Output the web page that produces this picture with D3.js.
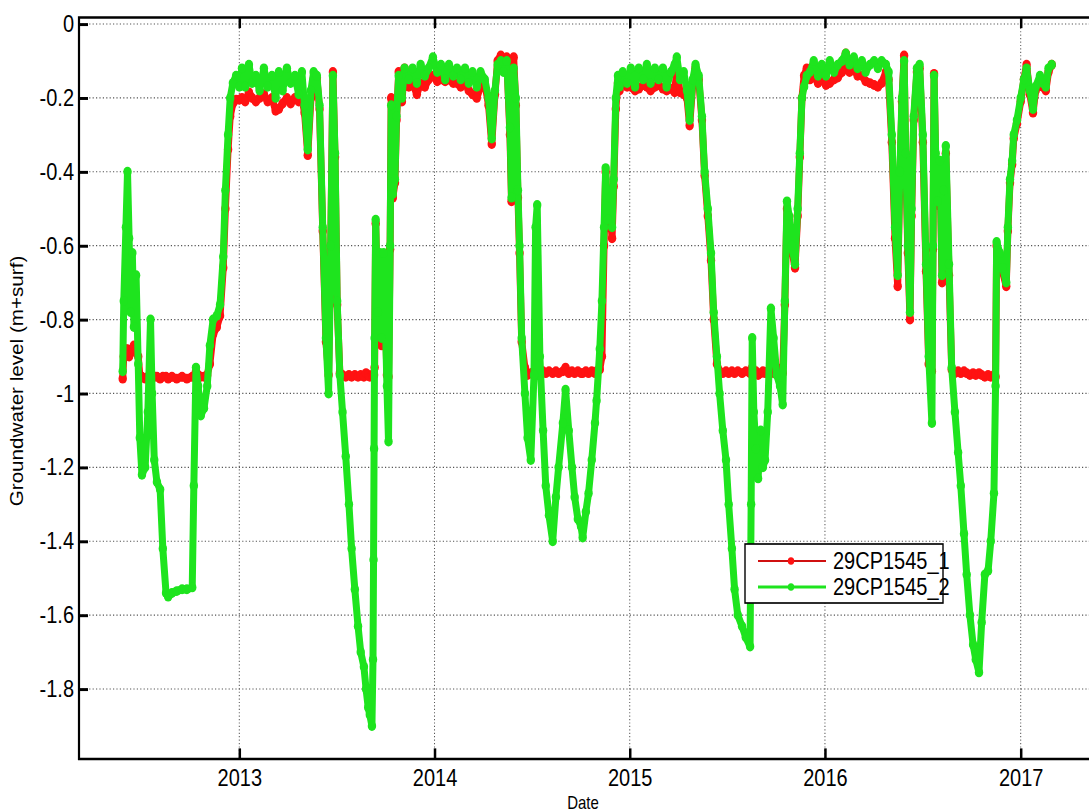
<!DOCTYPE html>
<html>
<head>
<meta charset="utf-8">
<script src="https://cdn.jsdelivr.net/npm/d3@7"></script>
<style>
  body { margin: 0; background: #fff; }
  svg { display: block; }
  text { font-family: "Liberation Sans", Arial, Helvetica, sans-serif; fill: #000; }
</style>
</head>
<body>
<div id="chart"></div>
<script>
// sampling dates shared by both loggers
const dates = [
  "2012-05-28","2012-05-30","2012-06-03","2012-06-06","2012-06-09","2012-06-12","2012-06-15","2012-06-18","2012-06-22","2012-06-26","2012-06-29",
  "2012-07-03","2012-07-09","2012-07-14","2012-07-19","2012-07-22","2012-07-26","2012-07-31",
  "2012-08-06","2012-08-11","2012-08-17","2012-08-21","2012-08-28",
  "2012-09-06","2012-09-16","2012-09-25",
  "2012-10-05","2012-10-08","2012-10-12","2012-10-16","2012-10-21","2012-10-27",
  "2012-11-02","2012-11-07","2012-11-13","2012-11-20","2012-11-26",
  "2012-12-02","2012-12-06","2012-12-11","2012-12-15","2012-12-20","2012-12-26",
  "2013-01-01","2013-01-06","2013-01-12","2013-01-19","2013-01-25","2013-02-01","2013-02-08","2013-02-16","2013-02-23",
  "2013-03-03","2013-03-10","2013-03-16","2013-03-23","2013-03-31",
  "2013-04-07","2013-04-15","2013-04-22","2013-04-28",
  "2013-05-03","2013-05-09","2013-05-15","2013-05-20","2013-05-26","2013-05-31",
  "2013-06-06","2013-06-12","2013-06-17","2013-06-21","2013-06-25","2013-06-29",
  "2013-07-03","2013-07-08","2013-07-13","2013-07-19","2013-07-25","2013-07-30",
  "2013-08-05","2013-08-11","2013-08-16","2013-08-22","2013-08-26","2013-08-30",
  "2013-09-02","2013-09-06","2013-09-08","2013-09-09","2013-09-10","2013-09-11","2013-09-13","2013-09-17","2013-09-21","2013-09-24","2013-09-28",
  "2013-10-04","2013-10-07","2013-10-10","2013-10-12","2013-10-15","2013-10-19","2013-10-22","2013-10-26",
  "2013-11-01","2013-11-06","2013-11-14","2013-11-21","2013-11-29",
  "2013-12-06","2013-12-14","2013-12-21","2013-12-29",
  "2014-01-06","2014-01-13","2014-01-21","2014-01-28",
  "2014-02-05","2014-02-12","2014-02-19","2014-02-27",
  "2014-03-06","2014-03-13","2014-03-21","2014-03-28",
  "2014-04-05","2014-04-12","2014-04-18","2014-04-24","2014-04-29",
  "2014-05-05","2014-05-10","2014-05-16","2014-05-22","2014-05-25","2014-05-29",
  "2014-06-02","2014-06-06","2014-06-09","2014-06-13","2014-06-19","2014-06-24","2014-06-30",
  "2014-07-06","2014-07-09","2014-07-12","2014-07-17","2014-07-23","2014-07-28",
  "2014-08-03","2014-08-10","2014-08-16","2014-08-21","2014-08-29",
  "2014-09-03","2014-09-09","2014-09-15","2014-09-20","2014-09-26",
  "2014-10-02","2014-10-05","2014-10-11","2014-10-16","2014-10-22","2014-10-28","2014-10-31",
  "2014-11-06","2014-11-10","2014-11-14","2014-11-17","2014-11-21","2014-11-25","2014-11-29",
  "2014-12-02","2014-12-06","2014-12-10","2014-12-13","2014-12-19","2014-12-27",
  "2015-01-03","2015-01-11","2015-01-18","2015-01-26",
  "2015-02-02","2015-02-09","2015-02-17","2015-02-24",
  "2015-03-04","2015-03-11","2015-03-19","2015-03-26","2015-03-30",
  "2015-04-05","2015-04-12","2015-04-18","2015-04-23","2015-04-29",
  "2015-05-04","2015-05-10","2015-05-16","2015-05-21","2015-05-27",
  "2015-06-02","2015-06-07","2015-06-13","2015-06-18","2015-06-24","2015-06-30",
  "2015-07-05","2015-07-11","2015-07-16","2015-07-22","2015-07-30",
  "2015-08-06","2015-08-14","2015-08-16","2015-08-18","2015-08-21","2015-08-25","2015-08-29",
  "2015-09-03","2015-09-07","2015-09-11","2015-09-16","2015-09-22","2015-09-27",
  "2015-10-03","2015-10-09","2015-10-14","2015-10-18","2015-10-22","2015-10-26","2015-10-31",
  "2015-11-06","2015-11-11","2015-11-15","2015-11-19","2015-11-23","2015-11-28",
  "2015-12-04","2015-12-11","2015-12-19","2015-12-26",
  "2016-01-03","2016-01-10","2016-01-18","2016-01-25",
  "2016-02-02","2016-02-09","2016-02-16","2016-02-24",
  "2016-03-02","2016-03-10","2016-03-17","2016-03-25",
  "2016-04-02","2016-04-09","2016-04-16","2016-04-24","2016-04-29",
  "2016-05-05","2016-05-11","2016-05-16","2016-05-20","2016-05-24","2016-05-28","2016-05-31",
  "2016-06-04","2016-06-08","2016-06-11","2016-06-15","2016-06-21","2016-06-26",
  "2016-07-02","2016-07-08","2016-07-13","2016-07-19","2016-07-21","2016-07-23","2016-07-26","2016-07-30",
  "2016-08-03","2016-08-07","2016-08-10","2016-08-14","2016-08-20","2016-08-25","2016-08-31",
  "2016-09-06","2016-09-11","2016-09-17","2016-09-22","2016-09-28",
  "2016-10-04","2016-10-09","2016-10-15","2016-10-20","2016-10-26",
  "2016-11-01","2016-11-06","2016-11-12","2016-11-15","2016-11-17","2016-11-23","2016-11-28",
  "2016-12-05","2016-12-08","2016-12-12","2016-12-16","2016-12-19","2016-12-25",
  "2017-01-01","2017-01-07","2017-01-12","2017-01-18","2017-01-24","2017-01-29",
  "2017-02-06","2017-02-11","2017-02-17","2017-02-22","2017-02-28"
];

// 29CP1545_1 (red), m relative to surface
const well1 = [
  -0.96,-0.90,-0.88,-0.88,-0.90,-0.89,-0.88,-0.87,-0.88,-0.90,-0.95,
  -0.955,-0.96,-0.955,-0.95,-0.95,-0.955,-0.955,
  -0.96,-0.955,-0.955,-0.96,-0.955,
  -0.96,-0.955,-0.96,
  -0.955,-0.955,-0.94,-0.95,-0.955,-0.955,
  -0.95,-0.92,-0.84,-0.82,-0.79,
  -0.66,-0.50,-0.34,-0.25,-0.215,-0.205,
  -0.205,-0.20,-0.21,-0.185,-0.20,-0.21,-0.20,-0.19,-0.21,
  -0.20,-0.235,-0.23,-0.215,-0.20,
  -0.215,-0.20,-0.21,-0.20,
  -0.24,-0.355,-0.20,-0.15,-0.145,-0.23,
  -0.56,-0.86,-0.95,-0.60,-0.13,-0.36,
  -0.76,-0.945,-0.95,-0.955,-0.95,-0.955,
  -0.95,-0.955,-0.95,-0.955,-0.945,-0.95,
  -0.955,-0.95,-0.95,-0.95,-0.95,-0.93,-0.54,-0.80,-0.64,-0.87,-0.63,
  -0.95,-0.955,-0.61,-0.20,-0.47,-0.43,-0.26,-0.13,
  -0.21,-0.12,-0.17,-0.16,-0.19,
  -0.16,-0.17,-0.15,-0.14,
  -0.155,-0.15,-0.155,-0.15,
  -0.16,-0.16,-0.17,-0.16,
  -0.18,-0.19,-0.20,-0.17,
  -0.16,-0.22,-0.325,-0.19,-0.10,
  -0.085,-0.12,-0.09,-0.30,-0.48,-0.09,
  -0.22,-0.47,-0.62,-0.86,-0.93,-0.95,-0.945,
  -0.94,-0.945,-0.94,-0.945,-0.94,-0.945,
  -0.94,-0.945,-0.94,-0.945,-0.94,
  -0.93,-0.945,-0.94,-0.945,-0.94,
  -0.945,-0.945,-0.94,-0.945,-0.94,-0.945,-0.94,
  -0.935,-0.90,-0.60,-0.40,-0.55,-0.50,-0.58,
  -0.44,-0.23,-0.16,-0.18,-0.15,-0.17,
  -0.17,-0.18,-0.175,-0.165,
  -0.17,-0.18,-0.17,-0.165,
  -0.175,-0.18,-0.175,-0.185,-0.12,
  -0.185,-0.19,-0.20,-0.275,-0.16,
  -0.12,-0.15,-0.26,-0.41,-0.52,
  -0.64,-0.80,-0.92,-0.94,-0.945,-0.94,
  -0.945,-0.94,-0.945,-0.94,-0.945,
  -0.94,-0.945,-0.94,-0.93,-0.945,-0.94,-0.95,
  -0.945,-0.94,-0.945,-0.94,-0.94,-0.945,
  -0.93,-0.94,-0.945,-0.76,-0.50,-0.53,-0.61,
  -0.66,-0.52,-0.36,-0.20,-0.14,-0.12,
  -0.15,-0.14,-0.16,-0.15,
  -0.165,-0.16,-0.15,-0.145,
  -0.13,-0.08,-0.13,-0.12,
  -0.14,-0.14,-0.155,-0.16,
  -0.165,-0.17,-0.16,-0.13,-0.15,
  -0.32,-0.58,-0.71,-0.42,-0.21,-0.085,-0.37,
  -0.62,-0.80,-0.52,-0.26,-0.13,-0.12,
  -0.32,-0.67,-0.92,-0.94,-0.61,-0.135,-0.37,-0.49,
  -0.38,-0.70,-0.47,-0.35,-0.68,-0.935,-0.945,
  -0.94,-0.945,-0.94,-0.945,-0.95,
  -0.945,-0.95,-0.945,-0.95,-0.955,
  -0.95,-0.955,-0.95,-0.955,-0.60,-0.63,-0.67,
  -0.71,-0.56,-0.43,-0.38,-0.31,-0.27,
  -0.21,-0.15,-0.11,-0.19,-0.24,-0.18,
  -0.15,-0.17,-0.18,-0.13,-0.11
];

// 29CP1545_2 (green)
const well2 = [
  -0.94,-0.75,-0.55,-0.40,-0.58,-0.78,-0.62,-0.82,-0.68,-0.92,-1.12,
  -1.22,-1.20,-1.05,-0.80,-1.00,-1.18,-1.24,
  -1.26,-1.42,-1.54,-1.55,-1.54,
  -1.535,-1.53,-1.53,
  -1.525,-1.25,-0.93,-0.98,-1.06,-1.04,
  -0.98,-0.87,-0.80,-0.79,-0.76,
  -0.63,-0.45,-0.30,-0.20,-0.16,-0.14,
  -0.17,-0.12,-0.17,-0.11,-0.16,-0.14,-0.18,-0.12,-0.17,
  -0.14,-0.20,-0.13,-0.18,-0.12,
  -0.16,-0.14,-0.19,-0.13,
  -0.22,-0.34,-0.18,-0.13,-0.14,-0.22,
  -0.55,-0.85,-1.00,-0.60,-0.14,-0.35,
  -0.75,-0.95,-1.05,-1.17,-1.30,-1.42,
  -1.53,-1.63,-1.70,-1.74,-1.80,-1.85,
  -1.87,-1.90,-1.72,-1.45,-1.15,-0.85,-0.53,-0.78,-0.62,-0.85,-0.62,
  -0.98,-1.13,-0.60,-0.22,-0.46,-0.42,-0.25,-0.14,
  -0.20,-0.12,-0.15,-0.12,-0.16,
  -0.11,-0.14,-0.12,-0.09,
  -0.13,-0.11,-0.15,-0.11,
  -0.14,-0.12,-0.15,-0.12,
  -0.16,-0.13,-0.17,-0.13,
  -0.15,-0.20,-0.31,-0.18,-0.11,
  -0.10,-0.13,-0.10,-0.28,-0.47,-0.12,
  -0.20,-0.45,-0.60,-0.85,-1.00,-1.12,-1.18,
  -0.95,-0.55,-0.49,-0.90,-1.10,-1.25,
  -1.33,-1.40,-1.28,-1.20,-1.08,
  -0.99,-1.10,-1.20,-1.28,-1.34,
  -1.36,-1.39,-1.32,-1.27,-1.18,-1.08,-1.02,
  -0.88,-0.75,-0.55,-0.39,-0.53,-0.47,-0.55,
  -0.42,-0.20,-0.14,-0.17,-0.13,-0.16,
  -0.12,-0.17,-0.12,-0.15,
  -0.11,-0.16,-0.12,-0.15,
  -0.12,-0.17,-0.13,-0.11,-0.09,
  -0.15,-0.13,-0.18,-0.26,-0.15,
  -0.11,-0.14,-0.25,-0.40,-0.50,
  -0.62,-0.78,-0.90,-1.00,-1.10,-1.18,
  -1.30,-1.42,-1.53,-1.60,-1.63,
  -1.66,-1.685,-1.30,-0.85,-1.05,-1.15,-1.23,
  -1.10,-1.20,-1.18,-1.05,-0.77,-0.85,
  -0.95,-0.98,-1.03,-0.75,-0.48,-0.52,-0.60,
  -0.65,-0.50,-0.35,-0.20,-0.17,-0.14,
  -0.13,-0.10,-0.14,-0.11,
  -0.14,-0.10,-0.13,-0.11,
  -0.10,-0.08,-0.11,-0.09,
  -0.12,-0.10,-0.13,-0.11,
  -0.10,-0.12,-0.10,-0.11,-0.13,
  -0.30,-0.55,-0.68,-0.40,-0.20,-0.10,-0.35,
  -0.60,-0.78,-0.50,-0.25,-0.12,-0.11,
  -0.30,-0.65,-0.90,-1.08,-0.60,-0.14,-0.35,-0.48,
  -0.37,-0.68,-0.45,-0.33,-0.65,-0.93,-1.05,
  -1.16,-1.25,-1.38,-1.49,-1.60,
  -1.68,-1.72,-1.755,-1.62,-1.49,
  -1.48,-1.40,-1.27,-0.98,-0.59,-0.62,-0.66,
  -0.70,-0.55,-0.42,-0.37,-0.30,-0.26,
  -0.20,-0.15,-0.12,-0.18,-0.23,-0.17,
  -0.14,-0.16,-0.17,-0.12,-0.11
];

const seriesNames = ["29CP1545_1", "29CP1545_2"];
const seriesColors = ["#ff1212", "#1ee41e"];
const yTicks = [0, -0.2, -0.4, -0.6, -0.8, -1, -1.2, -1.4, -1.6, -1.8];
const xTicks = ["2013-01-01", "2014-01-01", "2015-01-01", "2016-01-01", "2017-01-01"];

const width = 1089;
const height = 812;
const sy = 1.18; // the original figure was stretched vertically
const vh = height / sy;
const plot = { left: 79, right: 1100, top: 17.5 / sy, bottom: 759 / sy };

const parse = d3.timeParse("%Y-%m-%d");

const svg = d3.select('#chart')
  .append('svg')
  .attr('width', width)
  .attr('height', height)
  .attr('viewBox', [0, 0, width, vh])
  .attr('preserveAspectRatio', 'none');

const x = d3.scaleTime()
  .domain([parse("2013-01-01"), parse("2017-01-01")])
  .range([239.3, 1020.7]);

const y = d3.scaleLinear()
  .domain([0, -1.8])
  .range([24 / sy, 689 / sy]);

// grid
svg.append('g')
  .selectAll('line')
  .data(yTicks)
  .join('line')
    .attr('x1', plot.left).attr('x2', plot.right)
    .attr('y1', d => y(d)).attr('y2', d => y(d))
    .attr('stroke', '#555')
    .attr('stroke-width', 1)
    .attr('stroke-dasharray', '1.2,2.2');

svg.append('g')
  .selectAll('line')
  .data(xTicks)
  .join('line')
    .attr('x1', d => x(parse(d))).attr('x2', d => x(parse(d)))
    .attr('y1', plot.top).attr('y2', plot.bottom)
    .attr('stroke', '#555')
    .attr('stroke-width', 1)
    .attr('stroke-dasharray', '1,1.9');

// data
const series = [well1, well2].map((vals, i) => ({
  name: seriesNames[i],
  color: seriesColors[i],
  values: vals.map((v, j) => ({ date: parse(dates[j]), value: v }))
}));

const line = d3.line()
  .x(d => x(d.date))
  .y(d => y(d.value));

const traces = svg.append('g')
  .selectAll('g')
  .data(series)
  .join('g');

traces.append('path')
  .attr('d', d => line(d.values))
  .attr('fill', 'none')
  .attr('stroke', d => d.color)
  .attr('stroke-width', 7)
  .attr('stroke-linejoin', 'round')
  .attr('stroke-linecap', 'round');

traces.selectAll('circle')
  .data(d => d.values.map(p => ({ ...p, color: d.color })))
  .join('circle')
    .attr('cx', d => x(d.date))
    .attr('cy', d => y(d.value))
    .attr('r', 4.2)
    .attr('fill', d => d.color);

// axes
const yAxis = d3.axisLeft(y)
  .tickValues(yTicks)
  .tickSize(-9)
  .tickPadding(5)
  .tickFormat(d => d === 0 ? "0" : String(+d.toFixed(1)));

svg.append('g')
  .attr('transform', `translate(${plot.left},0)`)
  .call(yAxis)
  .call(g => g.select('.domain').remove())
  .call(g => g.selectAll('.tick line').attr('stroke', '#000').attr('stroke-width', 2.5))
  .call(g => g.selectAll('text').attr('font-size', 20));

const xAxis = d3.axisBottom(x)
  .tickValues(xTicks.map(parse))
  .tickSize(-9)
  .tickPadding(9)
  .tickFormat(d3.timeFormat("%Y"));

svg.append('g')
  .attr('transform', `translate(0,${plot.bottom})`)
  .call(xAxis)
  .call(g => g.select('.domain').remove())
  .call(g => g.selectAll('.tick line').attr('stroke', '#000').attr('stroke-width', 2.5))
  .call(g => g.selectAll('text').attr('font-size', 20));

svg.append('g')
  .attr('transform', `translate(0,${plot.top})`)
  .call(d3.axisTop(x).tickValues(xTicks.map(parse)).tickSize(-9).tickFormat(''))
  .call(g => g.select('.domain').remove())
  .call(g => g.selectAll('.tick line').attr('stroke', '#000').attr('stroke-width', 2.5));

// box
svg.append('path')
  .attr('d', `M${plot.right},${plot.top}H${plot.left}V${plot.bottom}H${plot.right}`)
  .attr('fill', 'none')
  .attr('stroke', '#000')
  .attr('stroke-width', 2.2);

// labels
svg.append('text')
  .attr('x', 583)
  .attr('y', 809 / sy)
  .attr('text-anchor', 'middle')
  .attr('font-size', 15)
  .text('Date');

svg.append('text')
  .attr('text-anchor', 'middle')
  .attr('font-size', 17.5)
  .attr('transform', `translate(23,${381 / sy}) rotate(-90)`)
  .text('Groundwater level (m+surf)');

// legend
const legend = svg.append('g');
const lx = 745, ltop = 544 / sy, lw = 198, lh = 59 / sy;

legend.append('rect')
  .attr('x', lx).attr('y', ltop).attr('width', lw).attr('height', lh)
  .attr('fill', '#fff');

series.forEach((s, i) => {
  const ly = (561 + i * 26) / sy;
  legend.append('line')
    .attr('x1', 758).attr('x2', 826)
    .attr('y1', ly).attr('y2', ly)
    .attr('stroke', i === 0 ? '#d01010' : s.color)
    .attr('stroke-width', i === 0 ? 1.8 : 2.6);
  legend.append('circle')
    .attr('cx', 791).attr('cy', ly).attr('r', 3.2)
    .attr('fill', s.color);
  legend.append('text')
    .attr('x', 833).attr('y', ly)
    .attr('dy', '0.36em')
    .attr('font-size', 20)
    .text(s.name);
});

legend.append('rect')
  .attr('x', lx).attr('y', ltop).attr('width', lw).attr('height', lh)
  .attr('fill', 'none')
  .attr('stroke', '#000')
  .attr('stroke-width', 1.4);
</script>
</body>
</html>
